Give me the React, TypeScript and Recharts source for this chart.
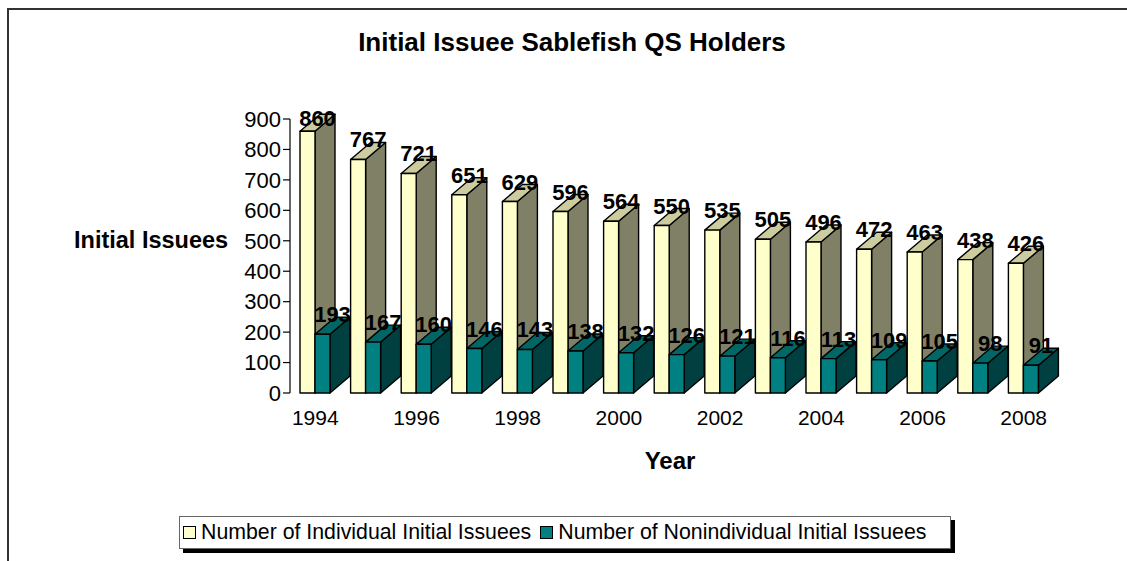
import React from "react";
import { Bar, BarChart, LabelList, XAxis, YAxis } from "recharts";

// Initial issuee sablefish QS holders, 1994-2008
const years = ["1994", "1995", "1996", "1997", "1998", "1999", "2000", "2001", "2002", "2003", "2004", "2005", "2006", "2007", "2008"];
const individual = [860, 767, 721, 651, 629, 596, 564, 550, 535, 505, 496, 472, 463, 438, 426];
const nonindividual = [193, 167, 160, 146, 143, 138, 132, 126, 121, 116, 113, 109, 105, 98, 91];
const yTicks = [0, 100, 200, 300, 400, 500, 600, 700, 800, 900];

const seriesNames = ["Number of Individual Initial Issuees", "Number of Nonindividual Initial Issuees"];

const data = years.map((year, i) => ({
  year,
  individual: individual[i],
  nonindividual: nonindividual[i],
}));

const FONT = '"Liberation Sans", Arial, sans-serif';
const DX = 20; // depth offset of the 3D columns
const DY = 17;

const faces: Record<string, { front: string; top: string; side: string }> = {
  individual: { front: "#FFFFCC", top: "#CCCC9E", side: "#808066" },
  nonindividual: { front: "#008080", top: "#006666", side: "#004040" },
};

// Excel-style 3D column: front face, top face and right side face
function makeColumn(key: string) {
  const c = faces[key];
  return function Column(props: any): React.ReactElement | null {
    const x = Number(props.x);
    const y = Number(props.y);
    const w = Number(props.width);
    const h = Number(props.height);
    if (!isFinite(x) || !isFinite(y) || !isFinite(w) || !isFinite(h)) return null;
    const b = y + h;
    const side = `${x + w},${y} ${x + w + DX},${y - DY} ${x + w + DX},${b - DY} ${x + w},${b}`;
    const top = `${x},${y} ${x + DX},${y - DY} ${x + w + DX},${y - DY} ${x + w},${y}`;
    return (
      <g stroke="#000" strokeWidth={1.4} strokeLinejoin="round">
        <polygon points={side} fill={c.side} />
        <polygon points={top} fill={c.top} />
        <rect x={x} y={y} width={w} height={h} fill={c.front} />
      </g>
    );
  };
}

const IndividualColumn = makeColumn("individual");
const NonindividualColumn = makeColumn("nonindividual");

function ValueLabel(props: any): React.ReactElement | null {
  const x = Number(props.x);
  const y = Number(props.y);
  const w = Number(props.width);
  if (!isFinite(x) || !isFinite(y)) return null;
  const cy = Math.max(y - 20, 118);
  return (
    <text
      x={x + w / 2 + DX / 2}
      y={cy + 8}
      textAnchor="middle"
      fontSize={22}
      fontWeight="bold"
      fill="#000"
      fontFamily={FONT}
    >
      {props.value}
    </text>
  );
}

function LegendSwatch({ color }: { color: string }): React.ReactElement {
  return (
    <span
      style={{
        display: "inline-block",
        width: 11,
        height: 11,
        background: color,
        border: "1.5px solid #000",
        marginRight: 5,
        marginLeft: 3,
      }}
    />
  );
}

export default function App(): React.ReactElement {
  return (
    <div
      style={{
        position: "absolute",
        left: 0,
        top: 0,
        width: 1127,
        height: 561,
        background: "#fff",
        fontFamily: FONT,
        overflow: "hidden",
      }}
    >
      {/* chart frame: only the top and left edges are visible */}
      <div style={{ position: "absolute", left: 7, top: 8, width: 1120, height: 2, background: "#333" }} />
      <div style={{ position: "absolute", left: 7, top: 8, width: 2, height: 553, background: "#333" }} />

      <div
        style={{
          position: "absolute",
          left: 0,
          width: 1144,
          top: 27,
          textAlign: "center",
          fontSize: 26,
          fontWeight: "bold",
        }}
      >
        Initial Issuee Sablefish QS Holders
      </div>

      <div style={{ position: "absolute", left: 74, top: 227, fontSize: 23.5, fontWeight: "bold" }}>
        Initial Issuees
      </div>

      <div
        style={{
          position: "absolute",
          left: 570,
          width: 200,
          top: 447,
          textAlign: "center",
          fontSize: 24,
          fontWeight: "bold",
        }}
      >
        Year
      </div>

      <div style={{ position: "absolute", left: 0, top: 0 }}>
        <BarChart
          width={1127}
          height={561}
          data={data}
          margin={{ top: 119, right: 78, bottom: 128, left: 0 }}
          barSize={15}
          barGap={0}
        >
          <XAxis
            dataKey="year"
            interval={1}
            axisLine={false}
            tickLine={false}
            tickSize={10}
            tickMargin={7}
            height={40}
            tick={{ fill: "#000", fontSize: 21 }}
          />
          <YAxis
            type="number"
            domain={[0, 900]}
            ticks={yTicks}
            interval={0}
            width={290}
            axisLine={{ stroke: "#000", strokeWidth: 1.2 }}
            tickLine={{ stroke: "#000", strokeWidth: 1.2 }}
            tickSize={7}
            tick={{ fill: "#000", fontSize: 22 }}
          />
          <Bar dataKey="individual" shape={IndividualColumn} isAnimationActive={false}>
            <LabelList dataKey="individual" content={ValueLabel} />
          </Bar>
          <Bar dataKey="nonindividual" shape={NonindividualColumn} isAnimationActive={false}>
            <LabelList dataKey="nonindividual" content={ValueLabel} />
          </Bar>
        </BarChart>
      </div>

      {/* legend box with drop shadow */}
      <div
        style={{
          position: "absolute",
          left: 183,
          top: 520,
          width: 772,
          height: 33,
          background: "#000",
        }}
      />
      <div
        style={{
          position: "absolute",
          left: 179,
          top: 516,
          width: 770,
          height: 31,
          background: "#fff",
          border: "1px solid #666",
          display: "flex",
          alignItems: "center",
          fontSize: 21.3,
          whiteSpace: "nowrap",
        }}
      >
        <LegendSwatch color={faces.individual.front} />
        <span style={{ marginRight: 6 }}>{seriesNames[0]}</span>
        <LegendSwatch color={faces.nonindividual.front} />
        <span>{seriesNames[1]}</span>
      </div>
    </div>
  );
}
